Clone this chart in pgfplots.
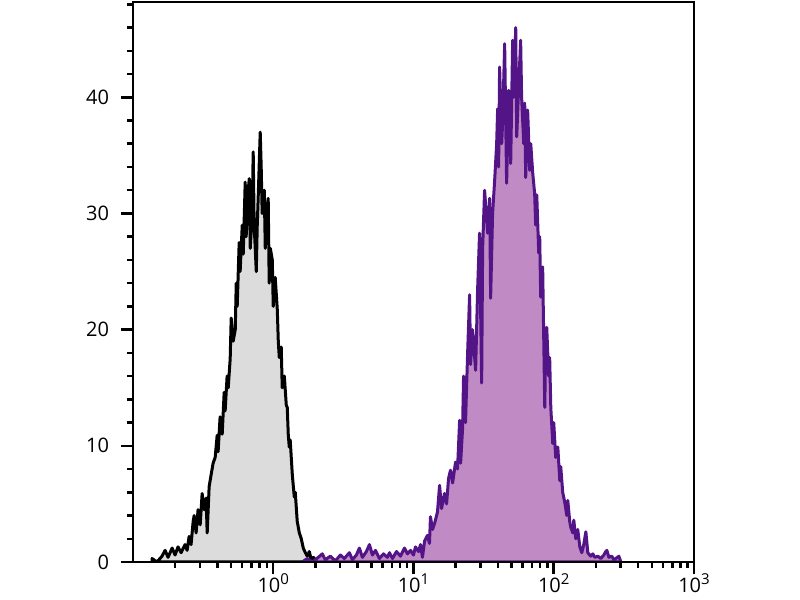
\documentclass[border=0pt]{standalone}
\usepackage{pgfplots}
\pgfplotsset{compat=1.18}
\usepackage{pgfplotstable}
\usepackage{fontspec}
\setmainfont{Open Sans}
\definecolor{greyfill}{RGB}{220,220,220}
\definecolor{purpleline}{RGB}{82,20,135}
\definecolor{purplefill}{RGB}{192,138,196}
\newcommand{\dec}[1]{10\raisebox{0.42em}{\fontsize{7.5}{7.5}\selectfont #1}}

% lx = log10 of intensity, y = count
\pgfplotstableread{
lx y
-0.864 0.3
-0.829 0.0
-0.793 0.5
-0.771 1.0
-0.750 0.4
-0.721 1.2
-0.700 0.6
-0.679 1.3
-0.657 0.8
-0.629 1.5
-0.614 1.0
-0.600 2.2
-0.586 1.5
-0.571 3.5
-0.564 4.0
-0.550 2.5
-0.536 4.5
-0.521 3.2
-0.507 5.9
-0.493 4.5
-0.479 5.5
-0.471 2.5
-0.457 6.5
-0.443 7.5
-0.429 8.5
-0.414 9.0
-0.400 10.9
-0.393 9.5
-0.379 12.5
-0.364 11.0
-0.350 14.6
-0.343 13.0
-0.329 16.0
-0.321 15.0
-0.307 17.5
-0.300 21.0
-0.286 19.0
-0.271 20.0
-0.264 24.0
-0.257 22.0
-0.243 27.5
-0.236 25.0
-0.221 29.0
-0.214 26.5
-0.200 32.7
-0.193 28.0
-0.186 31.0
-0.171 33.0
-0.164 27.0
-0.150 30.0
-0.143 35.3
-0.136 29.0
-0.121 25.0
-0.114 29.0
-0.107 31.5
-0.093 37.0
-0.086 34.0
-0.079 30.0
-0.064 32.0
-0.057 27.0
-0.050 30.0
-0.036 31.3
-0.029 24.0
-0.021 27.0
-0.007 26.0
0.000 22.0
0.014 24.5
0.029 21.7
0.036 19.0
0.043 17.6
0.057 18.5
0.064 15.0
0.079 16.0
0.093 13.5
0.100 13.3
0.107 11.0
0.114 9.9
0.121 10.5
0.136 7.5
0.150 5.6
0.157 6.0
0.171 3.5
0.186 2.5
0.200 2.0
0.214 1.2
0.229 0.8
0.243 0.5
0.257 0.9
0.271 0.2
0.286 0.4
0.307 0.1
0.336 0.3
0.364 0.0
}\greydata

\pgfplotstableread{
lx y
0.207 0.0
0.243 0.3
0.279 0.0
0.321 0.4
0.350 0.7
0.371 0.2
0.407 0.5
0.443 0.1
0.479 0.6
0.507 0.3
0.543 0.8
0.564 0.2
0.593 0.6
0.614 1.2
0.636 0.4
0.664 0.9
0.686 1.5
0.707 0.6
0.729 1.0
0.757 0.3
0.786 0.7
0.814 0.4
0.829 0.8
0.850 0.3
0.879 0.9
0.907 0.5
0.936 1.2
0.957 0.7
0.979 1.0
1.000 0.6
1.014 1.3
1.036 0.9
1.050 1.5
1.064 0.4
1.079 1.8
1.100 2.3
1.114 1.6
1.121 3.9
1.136 2.8
1.150 3.3
1.171 4.3
1.186 6.6
1.200 4.6
1.221 5.9
1.236 5.0
1.250 7.2
1.264 7.9
1.279 6.8
1.300 8.6
1.314 8.0
1.329 12.2
1.336 8.5
1.350 11.5
1.357 16.0
1.371 12.0
1.386 18.0
1.400 23.0
1.407 17.0
1.421 20.0
1.443 16.5
1.457 23.4
1.471 28.3
1.486 15.4
1.493 27.0
1.507 32.0
1.529 28.3
1.543 31.3
1.550 22.7
1.564 30.0
1.579 32.9
1.593 36.0
1.600 39.0
1.607 34.0
1.614 42.6
1.629 36.0
1.636 38.0
1.650 44.6
1.664 32.6
1.679 40.6
1.693 34.3
1.707 44.9
1.714 40.0
1.729 46.0
1.736 36.6
1.750 40.9
1.764 44.9
1.771 40.0
1.786 36.0
1.793 39.5
1.800 33.1
1.814 38.9
1.829 33.7
1.836 36.0
1.850 33.5
1.864 31.7
1.871 29.0
1.879 31.6
1.893 26.6
1.900 28.0
1.907 22.8
1.921 25.4
1.936 13.3
1.943 19.0
1.950 20.2
1.964 16.0
1.971 17.6
1.979 13.3
1.993 10.2
2.000 12.0
2.014 9.0
2.029 9.9
2.043 7.0
2.050 8.2
2.064 6.0
2.079 5.1
2.093 4.0
2.100 5.3
2.114 3.5
2.121 3.0
2.136 2.5
2.143 3.6
2.157 2.0
2.171 2.8
2.186 1.3
2.200 0.8
2.214 1.5
2.229 2.6
2.243 0.8
2.264 0.5
2.279 0.7
2.293 0.4
2.314 0.5
2.336 0.3
2.357 0.6
2.371 0.9
2.379 1.0
2.393 0.4
2.414 0.5
2.429 0.2
2.443 0.3
2.464 0.5
2.479 0.0
}\purpledata

\begin{document}
\begin{tikzpicture}
\path[use as bounding box] (-66.5pt,-19pt) rectangle (333.5pt,281pt);
\begin{axis}[
  scale only axis, width=280.5pt, height=280pt,
  xmode=log, xmin=0.1, xmax=1000, ymin=0, ymax=48.2,
  xtick={1,10,100,1000},
  xticklabels={\dec{0},\dec{1},\dec{2},\dec{3}},
  minor xtick={0.2,0.3,0.4,0.5,0.6,0.7,0.8,0.9,2,3,4,5,6,7,8,9,20,30,40,50,60,70,80,90,200,300,400,500,600,700,800,900},
  ytick={0,10,20,30,40},
  minor ytick={2,4,6,8,12,14,16,18,22,24,26,28,32,34,36,38,42,44,46,48},
  tick align=outside, xtick pos=bottom, ytick pos=left,
  major tick length=6pt, minor tick length=3pt,
  every tick/.style={line width=1.25pt, black},
  axis line style={line width=1.4pt},
  ticklabel style={font=\fontsize{10}{11}\selectfont},
  yticklabel style={xshift=-2.5pt},
  xticklabel style={yshift=1.5pt, text depth=0pt, inner sep=1pt},
  /pgf/number format/assume math mode=true,
  axis on top,
]
\addplot[draw=black, line width=1.5pt, line join=round, fill=greyfill]
  table[x expr={10^(\thisrow{lx})}, y=y]{\greydata} \closedcycle;
\addplot[draw=purpleline, line width=1.5pt, line join=round, fill=purplefill]
  table[x expr={10^(\thisrow{lx})}, y=y]{\purpledata} \closedcycle;
\end{axis}
\end{tikzpicture}
\end{document}
